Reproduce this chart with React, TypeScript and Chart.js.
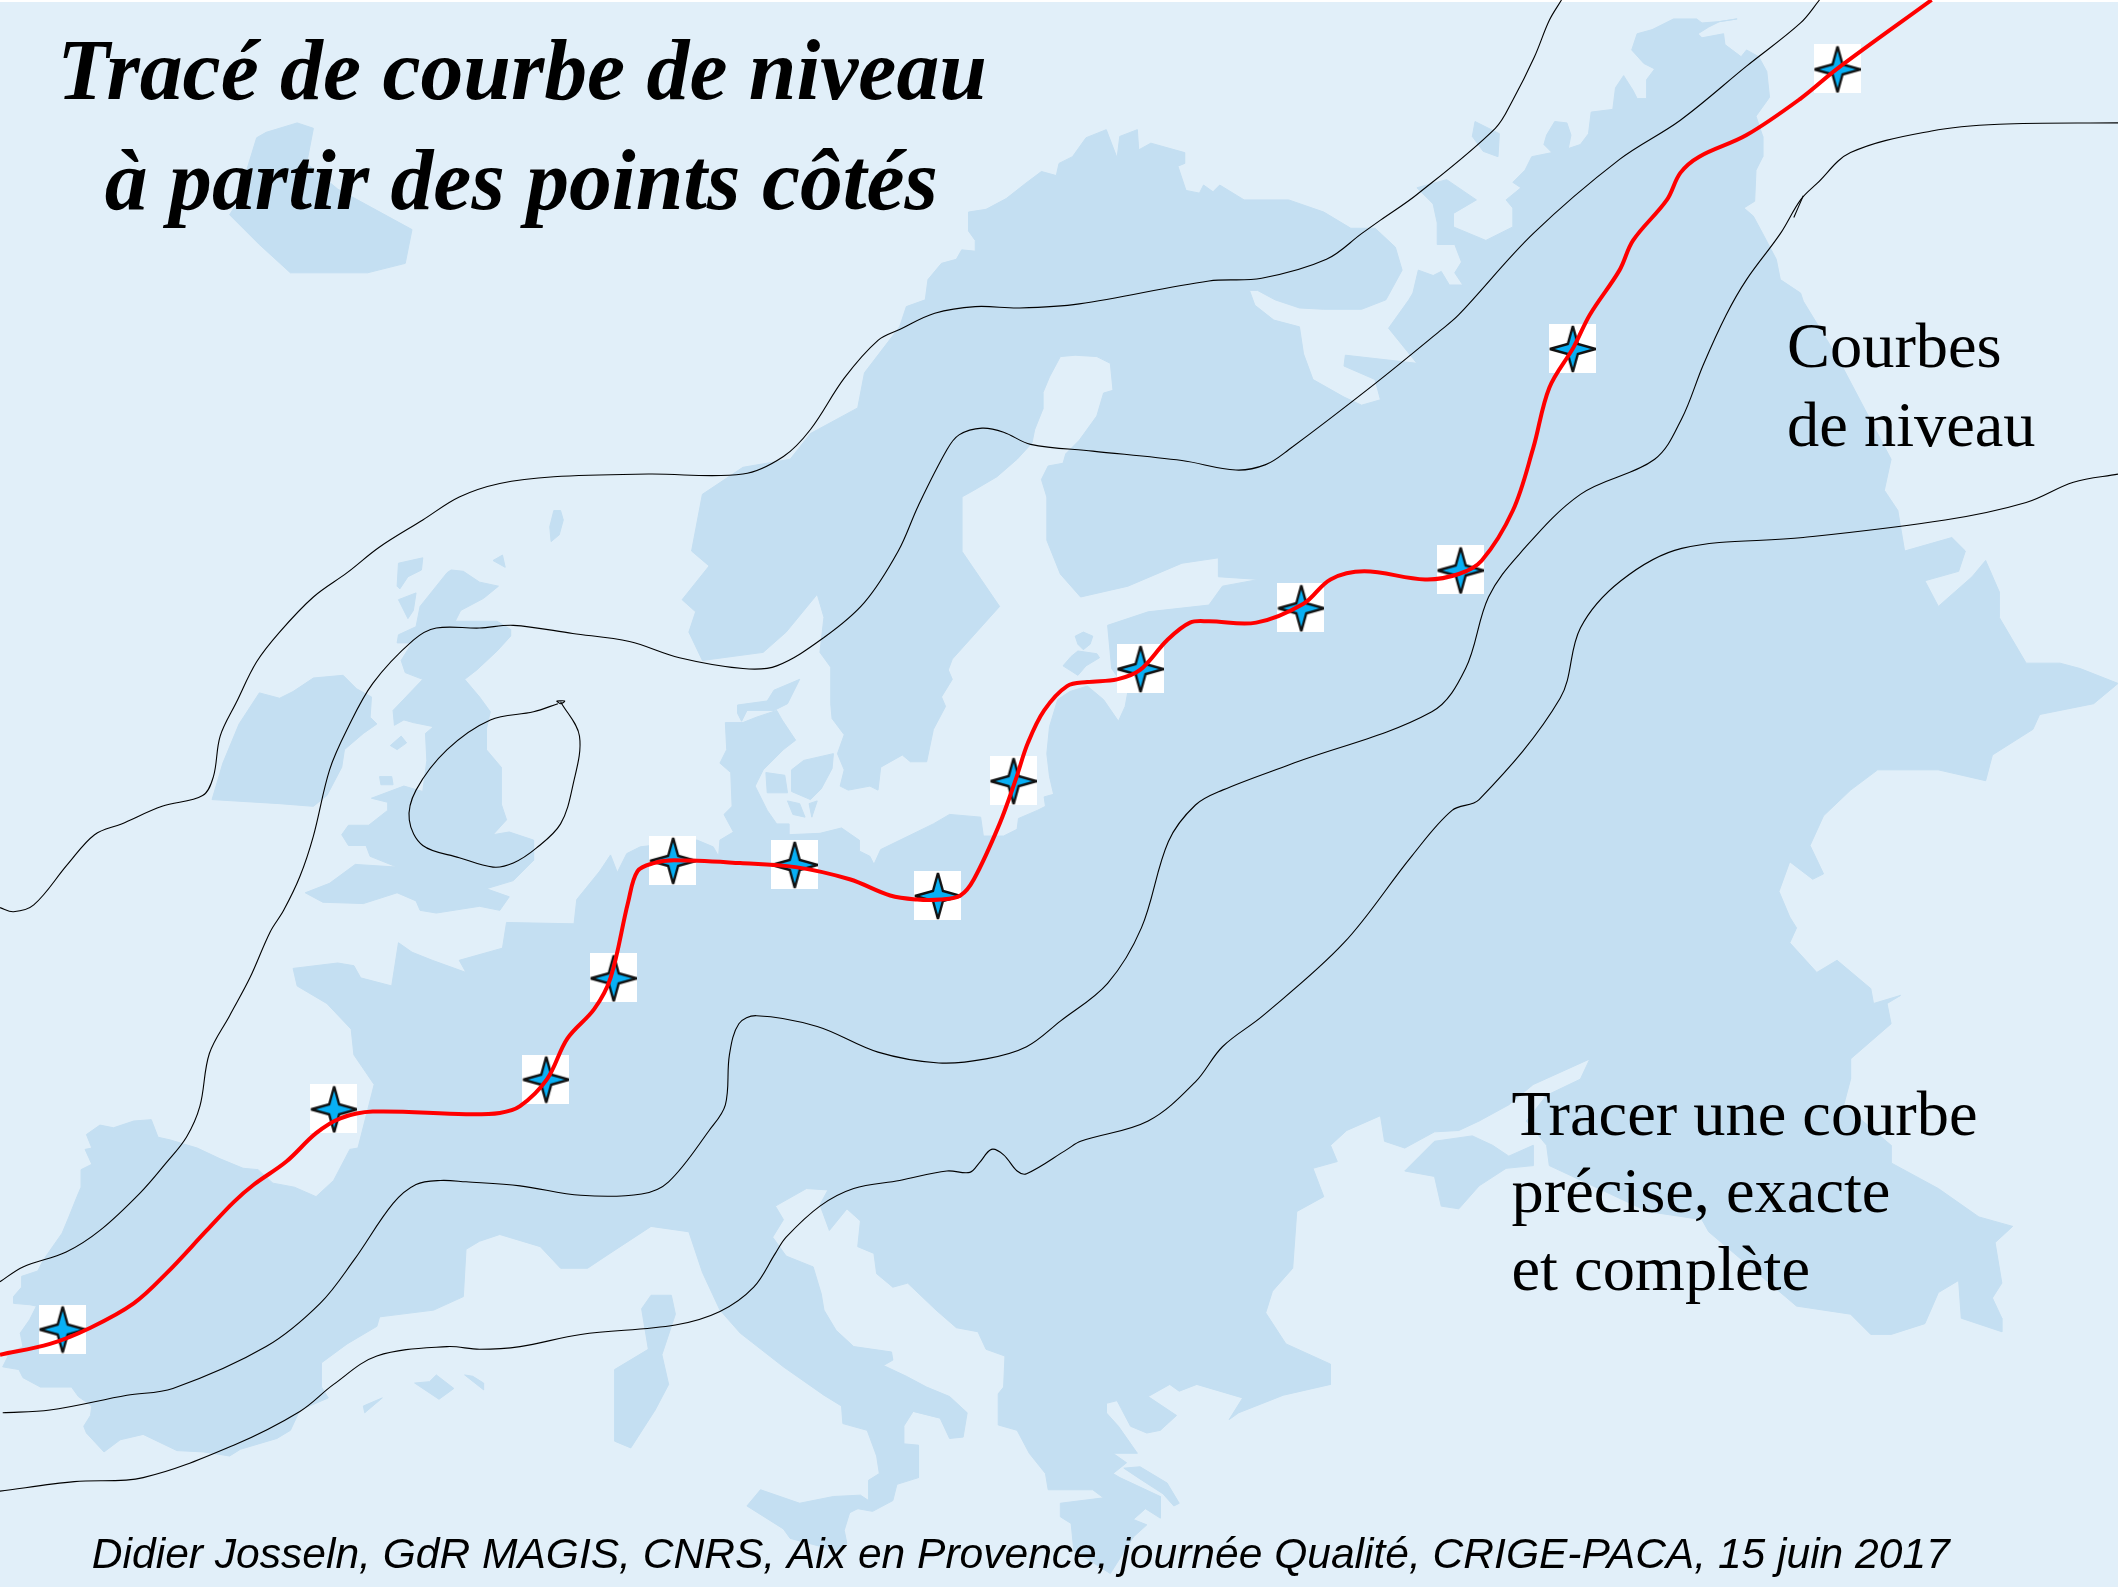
import React, { useEffect, useRef } from "react";
import { Chart, registerables } from "chart.js";

Chart.register(...registerables);

type P = [number, number];

const WIDTH = 2118;
const HEIGHT = 1587;
const SEA = "#e1eff9";
const LAND = "#c4dff2";

const mainland: P[] = [
  [64,840],[74,833],[84,835],[99,830],[112,829],[117,842],[126,844],[146,850],[163,858],[180,865],[191,866],[202,876],[218,879],[234,886],[247,874],[259,851],[265,850],[277,803],[262,781],[260,762],[242,743],[220,730],[217,717],[250,713],[262,715],[267,724],[290,730],[295,698],[305,705],[320,711],[345,720],[340,711],[372,702],[375,683],[425,684],[427,666],[444,645],[452,633],[457,646],[464,632],[474,627],[516,622],[528,627],[532,634],[533,622],[543,616],[536,603],[542,597],[541,572],[533,565],[538,555],[537,535],[550,535],[560,531],[575,526],[579,533],[589,548],[580,555],[565,570],[559,582],[568,600],[575,610],[584,610],[584,618],[607,617],[623,613],[636,622],[636,630],[644,634],[647,640],[652,629],[691,610],[703,603],[726,605],[728,619],[743,619],[753,614],[754,606],[768,600],[774,597],[773,590],[784,587],[791,593],[780,588],[777,575],[775,558],[777,538],[783,518],[792,512],[805,508],[817,518],[828,534],[833,523],[835,512],[823,495],[820,463],[850,453],[895,448],[905,434],[932,429],[902,427],[902,413],[875,417],[835,434],[800,442],[785,425],[775,400],[775,368],[771,355],[776,345],[787,343],[789,336],[799,326],[812,308],[817,291],[824,289],[822,269],[812,264],[796,263],[785,264],[777,279],[772,291],[772,303],[766,318],[764,328],[753,340],[738,353],[721,363],[712,368],[712,408],[740,449],[705,488],[702,496],[705,503],[697,516],[700,523],[691,540],[686,564],[674,564],[668,559],[652,568],[650,585],[644,582],[628,585],[622,582],[625,570],[620,558],[625,544],[616,532],[615,521],[615,494],[607,483],[610,457],[605,440],[582,468],[565,483],[520,489],[510,468],[515,453],[505,444],[525,419],[512,408],[520,366],[550,346],[585,340],[600,321],[635,302],[640,276],[666,242],[671,227],[685,222],[687,207],[697,195],[708,192],[712,185],[722,186],[722,178],[717,171],[717,157],[730,155],[745,147],[759,136],[771,127],[782,130],[784,121],[794,116],[804,102],[819,96],[827,117],[829,101],[842,96],[843,111],[852,106],[877,113],[877,121],[872,123],[878,141],[888,143],[891,137],[898,142],[903,137],[921,148],[954,148],[980,157],[1000,169],[1018,169],[1033,183],[1038,200],[1026,222],[1008,229],[980,229],[962,228],[944,222],[931,215],[925,215],[929,226],[943,237],[962,242],[965,262],[972,281],[995,294],[1008,300],[1022,296],[1018,281],[995,271],[996,263],[1049,269],[1028,243],[1043,222],[1046,217],[1050,200],[1061,204],[1067,201],[1073,211],[1083,211],[1077,202],[1082,194],[1077,181],[1064,181],[1064,165],[1061,151],[1049,139],[1071,133],[1093,148],[1076,158],[1076,168],[1100,178],[1120,168],[1120,154],[1115,148],[1126,139],[1120,135],[1129,126],[1134,116],[1149,113],[1143,107],[1145,100],[1151,90],[1160,91],[1163,100],[1161,110],[1170,107],[1176,99],[1178,83],[1194,81],[1196,65],[1202,56],[1209,67],[1212,73],[1219,73],[1219,59],[1225,51],[1217,47],[1208,37],[1212,25],[1223,22],[1239,14],[1256,14],[1260,17],[1273,16],[1286,14],[1273,16],[1265,20],[1257,25],[1260,28],[1276,25],[1277,33],[1289,42],[1293,37],[1302,42],[1308,53],[1310,72],[1300,86],[1305,101],[1305,116],[1300,126],[1299,149],[1291,154],[1298,160],[1305,173],[1315,192],[1318,207],[1333,217],[1335,223],[1360,264],[1400,340],[1395,363],[1405,378],[1410,408],[1445,398],[1455,408],[1450,423],[1425,430],[1435,449],[1460,427],[1470,415],[1480,438],[1480,457],[1500,491],[1525,491],[1540,495],[1568,506],[1550,521],[1510,529],[1505,540],[1475,559],[1470,578],[1435,570],[1390,570],[1370,585],[1350,604],[1340,626],[1350,647],[1342,651],[1325,638],[1317,660],[1325,679],[1330,687],[1325,698],[1345,720],[1360,711],[1385,732],[1387,743],[1407,737],[1397,743],[1400,758],[1370,784],[1370,799],[1365,818],[1400,848],[1400,861],[1435,880],[1465,901],[1490,908],[1477,920],[1482,950],[1475,961],[1482,976],[1482,986],[1452,976],[1450,948],[1435,957],[1425,980],[1400,988],[1385,988],[1370,973],[1330,967],[1265,912],[1260,903],[1220,897],[1147,863],[1145,848],[1130,830],[1145,811],[1170,799],[1177,784],[1135,803],[1117,818],[1095,830],[1080,837],[1062,838],[1040,850],[1025,845],[1022,826],[997,837],[985,848],[990,860],[972,865],[980,886],[960,897],[957,939],[942,956],[937,972],[952,995],[985,1010],[985,1025],[950,1033],[917,1046],[910,1051],[920,1035],[886,1025],[873,1030],[866,1025],[850,1034],[871,1048],[859,1059],[849,1061],[837,1056],[827,1037],[819,1039],[819,1046],[828,1056],[842,1076],[824,1076],[834,1083],[824,1091],[829,1094],[859,1108],[859,1124],[848,1117],[839,1125],[849,1129],[839,1138],[822,1165],[795,1148],[793,1128],[785,1123],[785,1113],[817,1109],[809,1103],[776,1103],[774,1091],[762,1076],[753,1059],[739,1055],[739,1032],[743,1027],[744,1004],[730,999],[724,986],[708,983],[693,970],[672,950],[661,953],[649,943],[647,928],[635,923],[637,904],[627,895],[614,911],[607,892],[613,881],[597,880],[574,893],[580,903],[572,916],[582,930],[602,938],[608,958],[610,970],[619,985],[632,997],[660,1001],[661,1007],[654,1011],[671,1019],[686,1027],[703,1034],[716,1046],[713,1064],[703,1065],[696,1050],[676,1045],[669,1056],[669,1069],[680,1070],[680,1094],[664,1099],[661,1111],[646,1119],[635,1117],[643,1111],[643,1096],[651,1091],[649,1078],[642,1059],[624,1054],[623,1041],[610,1033],[580,1012],[548,987],[533,970],[520,942],[510,912],[482,908],[450,929],[435,939],[415,939],[400,923],[370,914],[355,919],[345,925],[343,960],[321,970],[281,975],[279,982],[257,995],[238,1009],[238,1027],[243,1035],[222,1044],[215,1059],[205,1065],[178,1073],[170,1078],[151,1075],[131,1074],[106,1062],[89,1066],[77,1075],[64,1061],[62,1056],[67,1048],[68,1041],[58,1034],[53,1027],[30,1027],[17,1020],[14,1014],[2,1012],[7,1002],[17,997],[15,987],[22,977],[27,967],[22,966],[10,965],[10,960],[16,953],[16,945],[28,941],[32,933],[46,913],[51,901],[57,886],[60,879],[60,866],[68,862],[63,851],[68,850],
];
const iceland: P[] = [[190,102],[197,98],[220,91],[232,95],[227,121],[250,140],[305,170],[300,195],[272,202],[215,202],[192,181],[170,159],[175,151]];
const faroe: P[] = [[410,378],[415,378],[417,385],[414,396],[408,401],[407,390]];
const hebrides: P[] = [[295,417],[313,413],[312,422],[302,427],[296,436],[294,434]];
const skye: P[] = [[295,444],[308,439],[306,452],[302,458]];
const orkney: P[] = [[365,415],[372,411],[374,420]];
const man: P[] = [[281,575],[290,575],[291,581],[282,581]];
const anglesey: P[] = [[289,552],[297,545],[301,550],[294,555]];
const ireland: P[] = [[157,592],[165,565],[177,536],[192,513],[207,517],[217,512],[232,502],[254,500],[264,510],[275,516],[274,531],[279,536],[269,543],[255,555],[253,568],[242,589],[232,597],[207,595]];
const britain: P[] = [[334,422],[343,423],[355,431],[369,434],[358,443],[341,452],[337,460],[368,460],[378,466],[378,471],[368,482],[353,496],[344,503],[355,516],[363,527],[360,540],[360,555],[371,568],[371,595],[375,607],[365,618],[377,616],[395,622],[395,637],[380,652],[360,658],[377,664],[370,674],[355,671],[323,676],[311,674],[308,667],[294,661],[269,669],[239,668],[226,661],[244,654],[263,640],[294,642],[274,634],[271,626],[258,626],[253,618],[258,611],[273,611],[287,600],[287,594],[275,591],[299,582],[313,586],[316,563],[315,543],[321,538],[306,535],[299,533],[292,537],[291,526],[313,503],[300,498],[297,489],[305,476],[294,476],[295,470],[308,464],[311,449],[331,424]];
const vendsyssel: P[] = [[546,522],[568,519],[573,511],[592,503],[583,521],[573,526],[553,526],[549,534],[546,528]];
const funen: P[] = [[567,572],[581,574],[583,587],[568,587]];
const zealand: P[] = [[586,570],[595,563],[617,558],[616,569],[608,584],[600,592],[586,586]];
const lolland: P[] = [[583,593],[592,595],[596,605],[587,603]];
const falster: P[] = [[599,595],[605,593],[601,605]];
const saaremaa: P[] = [[787,493],[793,486],[798,482],[812,484],[814,487],[804,493],[798,500]];
const hiiumaa: P[] = [[796,471],[802,468],[809,471],[807,477],[802,481],[798,477]];
const kolguev: P[] = [[1092,90],[1110,99],[1109,116],[1098,112],[1090,101]];
const corsica: P[] = [[482,959],[497,959],[500,973],[490,1003],[495,1025],[485,1044],[467,1072],[455,1067],[455,1014],[480,999],[475,969]];
const majorca: P[] = [[307,1024],[318,1023],[323,1018],[336,1028],[325,1036]];
const minorca: P[] = [[344,1018],[350,1019],[358,1024],[358,1029]];
const ibiza: P[] = [[269,1041],[283,1035],[270,1046]];
const sicily: P[] = [[563,1103],[592,1113],[617,1108],[637,1107],[643,1111],[635,1117],[629,1120],[625,1133],[627,1143],[619,1148],[585,1139],[580,1132],[553,1115]];
const crimea: P[] = [[1062,845],[1090,841],[1105,848],[1117,856],[1135,848],[1135,863],[1115,865],[1095,878],[1080,895],[1067,893],[1062,871],[1040,867]];
const euboea: P[] = [[832,1087],[844,1086],[864,1098],[873,1113],[869,1115],[861,1106],[844,1095]];
const landShapes: P[][] = [mainland, iceland, faroe, hebrides, skye, orkney, man, anglesey, ireland, britain, vendsyssel, funen, zealand, lolland, falster, saaremaa, hiiumaa, kolguev, corsica, majorca, minorca, ibiza, sicily, crimea, euboea];

const contourNorth: P[] = [[0,672],[10,675],[25,670],[50,640],[70,618],[90,610],[120,597],[150,589],[158,575],[163,545],[175,520],[190,490],[207,468],[232,442],[257,424],[281,405],[313,385],[340,368],[370,358],[410,353],[480,351],[550,351],[580,338],[600,318],[625,280],[650,252],[666,244],[692,232],[722,227],[755,228],[799,225],[895,208],[934,206],[982,192],[1008,173],[1022,163],[1049,144],[1107,95],[1120,74],[1136,42],[1147,15],[1156,0]];
const contourSecond: P[] = [[0,949],[17,938],[49,927],[74,911],[104,883],[123,861],[138,842],[148,819],[155,780],[170,752],[185,724],[200,690],[210,674],[222,649],[232,619],[244,570],[257,540],[276,506],[306,474],[323,465],[355,465],[380,463],[424,469],[466,475],[503,487],[550,495],[575,493],[610,472],[640,446],[665,408],[680,374],[701,333],[710,322],[727,317],[743,320],[763,329],[809,334],[875,341],[915,348],[937,344],[954,333],[1018,284],[1066,245],[1080,233],[1135,173],[1199,118],[1244,89],[1293,49],[1333,17],[1347,0]];
const contourThird: P[] = [[2,1046],[37,1044],[94,1033],[128,1028],[197,997],[237,965],[262,933],[291,891],[308,877],[326,874],[345,875],[385,878],[430,885],[475,884],[495,875],[525,837],[537,818],[540,781],[547,758],[560,752],[605,760],[650,779],[695,787],[730,784],[760,775],[785,756],[820,728],[845,687],[865,623],[885,596],[905,585],[955,566],[1060,527],[1085,495],[1102,442],[1125,410],[1170,366],[1225,340],[1245,310],[1261,270],[1278,233],[1293,207],[1318,173],[1333,148],[1345,136],[1370,113],[1430,97],[1480,92],[1568,91]];
const contourFourth: P[] = [[0,1104],[55,1097],[106,1094],[173,1070],[222,1045],[247,1025],[279,1004],[331,997],[355,999],[385,997],[430,988],[500,981],[533,971],[558,953],[574,928],[582,916],[607,893],[632,880],[666,874],[701,867],[718,868],[725,861],[734,851],[743,855],[753,867],[760,869],[790,851],[800,845],[850,830],[885,801],[905,775],[935,752],[995,698],[1045,634],[1075,600],[1095,592],[1155,517],[1170,465],[1200,430],[1245,406],[1335,398],[1440,385],[1500,372],[1535,357],[1568,351]];
const contourLoop: P[] = [[415,519.5],[429,545],[424,582],[415,610],[397,628],[380,639],[365,642],[340,635],[313,626],[303,607],[308,585],[331,555],[363,533],[395,527],[413,521]];
const contourTip: P[] = [[412,519],[418,519],[415,521],[412,519]];
const contourTick: P[] = [[1335,145],[1328,161]];
const contourShapes: P[][] = [contourNorth, contourSecond, contourThird, contourFourth, contourLoop, contourTip, contourTick];

const traced: P[] = [[0,1003],[37,995],[67,983],[99,965],[123,943],[153,911],[173,890],[188,877],[212,860],[234,839],[252,828],[276,823],[345,825],[370,824],[385,819],[405,799],[420,769],[440,747],[452,724],[465,668],[472,645],[484,639],[499,637],[548,639],[589,642],[629,651],[659,663],[679,666],[696,666],[711,663],[721,651],[740,610],[752,577],[761,550],[773,526],[790,508],[805,505],[827,503],[844,496],[864,474],[881,461],[895,460],[930,461],[965,447],[985,429],[1010,423],[1055,429],[1080,425],[1097,415],[1120,378],[1135,332],[1147,287],[1165,257],[1177,233],[1199,200],[1209,178],[1234,148],[1244,128],[1258,116],[1293,100],[1333,73],[1360,51],[1430,0]];

const spotHeights: P[] = [[46,984],[247,821],[404,799],[454,724],[498,637],[588,640],[694,663],[750,578],[844,495],[963,450],[1081,422],[1164,258],[1360,51]];

const titleLines = ["Tracé de courbe de niveau", "à partir des points côtés"];
const sideLines = ["Courbes", "de niveau"];
const taskLines = ["Tracer une courbe", "précise, exacte", "et complète"];
const credit = "Didier Josseln, GdR MAGIS, CNRS, Aix en Provence, journée Qualité, CRIGE-PACA, 15 juin 2017";

function makeStar(): HTMLCanvasElement {
  const c = document.createElement("canvas");
  c.width = 47;
  c.height = 49;
  const g = c.getContext("2d")!;
  g.fillStyle = "#ffffff";
  g.fillRect(0, 0, 47, 49);
  g.translate(24, 25);
  const tipX = 23, tipY = 23, inner = 5;
  g.beginPath();
  g.moveTo(0, -tipY);
  g.lineTo(inner, -inner);
  g.lineTo(tipX, 0);
  g.lineTo(inner, inner);
  g.lineTo(0, tipY);
  g.lineTo(-inner, inner);
  g.lineTo(-tipX, 0);
  g.lineTo(-inner, -inner);
  g.closePath();
  g.fillStyle = "#08b0f5";
  g.fill();
  g.strokeStyle = "#111111";
  g.lineWidth = 2.4;
  g.lineJoin = "miter";
  g.miterLimit = 3;
  g.stroke();
  return c;
}

const toPoints = (pts: P[]) => pts.map(([x, y]) => ({ x, y }));

const mapPlugin = {
  id: "mapFurniture",
  beforeDraw(chart: any) {
    const { ctx } = chart;
    ctx.save();
    ctx.fillStyle = "#ffffff";
    ctx.fillRect(0, 0, WIDTH, HEIGHT);
    ctx.fillStyle = SEA;
    ctx.fillRect(0, 2, WIDTH, HEIGHT - 2);
    ctx.restore();
  },
  afterDatasetsDraw(chart: any) {
    const { ctx, scales } = chart;
    const put = (text: string, x: number, y: number, font: string, align: CanvasTextAlign = "left") => {
      ctx.font = font;
      ctx.textAlign = align;
      ctx.textBaseline = "alphabetic";
      ctx.fillStyle = "#000000";
      ctx.fillText(text, scales.x.getPixelForValue(x), scales.y.getPixelForValue(y));
    };
    ctx.save();
    const titleFont = 'italic bold 85.7px "Liberation Serif"';
    put(titleLines[0], 386.5, 73, titleFont, "center");
    put(titleLines[1], 386, 155, titleFont, "center");
    const bodyFont = '64.4px "Liberation Serif"';
    put(sideLines[0], 1323, 272, bodyFont);
    put(sideLines[1], 1323, 330, bodyFont);
    put(taskLines[0], 1119, 840, bodyFont);
    put(taskLines[1], 1119, 897, bodyFont);
    put(taskLines[2], 1119, 955, bodyFont);
    put(credit, 68, 1161, 'italic 42.55px "Liberation Sans"');
    ctx.restore();
  },
};

export default function App() {
  const ref = useRef<HTMLCanvasElement | null>(null);
  useEffect(() => {
    if (!ref.current) return;
    const star = makeStar();
    const datasets: any[] = [
      ...landShapes.map((shape, i) => ({
        label: `land ${i}`,
        data: toPoints([...shape, shape[0]]),
        showLine: true,
        fill: "shape",
        backgroundColor: LAND,
        borderColor: LAND,
        borderWidth: 1,
        pointRadius: 0,
        tension: 0,
        order: 30,
      })),
      ...contourShapes.map((shape, i) => ({
        label: `contour ${i}`,
        data: toPoints(shape),
        showLine: true,
        fill: false,
        borderColor: "#000000",
        borderWidth: 1.1,
        pointRadius: 0,
        tension: 0.35,
        order: 20,
      })),
      {
        label: "points côtés",
        data: toPoints(spotHeights),
        showLine: false,
        pointStyle: star,
        pointRadius: 24,
        order: 10,
      },
      {
        label: "courbe tracée",
        data: toPoints(traced),
        showLine: true,
        fill: false,
        borderColor: "#ff0000",
        borderWidth: 4,
        pointRadius: 0,
        tension: 0.35,
        order: 1,
      },
    ];
    const chart = new Chart(ref.current, {
      type: "scatter",
      data: { datasets },
      options: {
        animation: false,
        responsive: false,
        layout: { padding: 0, autoPadding: false },
        plugins: { legend: { display: false }, tooltip: { enabled: false }, title: { display: false } },
        scales: {
          x: { type: "linear", display: false, min: 0, max: 1568 },
          y: { type: "linear", display: false, min: 0, max: 1175, reverse: true },
        },
      },
      plugins: [mapPlugin],
    } as any);
    return () => chart.destroy();
  }, []);
  return (
    <div style={{ position: "fixed", left: 0, top: 0, width: WIDTH, height: HEIGHT, overflow: "hidden" }}>
      <canvas ref={ref} width={WIDTH} height={HEIGHT} style={{ display: "block" }} />
    </div>
  );
}
